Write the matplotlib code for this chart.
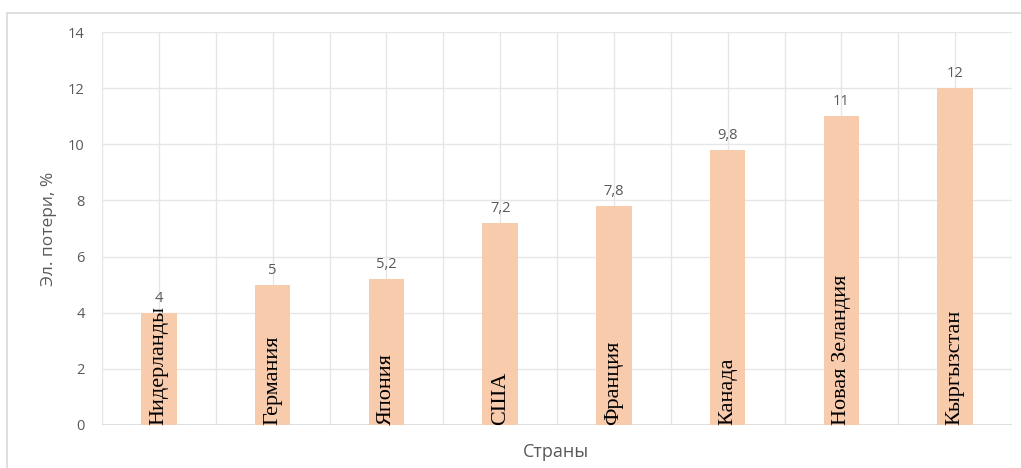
import numpy as np
import matplotlib.pyplot as plt
from matplotlib.patches import Rectangle

countries = ["Нидерланды", "Германия", "Япония", "США", "Франция",
             "Канада", "Новая Зеландия", "Кыргызстан"]
losses = [4, 5, 5.2, 7.2, 7.8, 9.8, 11, 12]
yticks = [0, 2, 4, 6, 8, 10, 12, 14]

bar_color = "#F8CBAD"
text_gray = "#595959"
grid_gray = "#E6E6E6"

fig = plt.figure(figsize=(10.21, 4.68), dpi=100)
ax = fig.add_axes([102 / 1021, 1 - 425 / 468, 910 / 1021, 393 / 468])

# light frame around the chart area
fig.patches.append(Rectangle((7 / 1021, -0.1), 1.1, 1 - 13 / 468 + 0.1,
                             transform=fig.transFigure, fill=False,
                             edgecolor="#D9D9D9", linewidth=1.2))

x = np.arange(len(countries))
bars = ax.bar(x, losses, width=0.31, color=bar_color, zorder=2)

ax.set_xlim(-0.5, len(countries) - 0.5)
ax.set_ylim(0, 14)
ax.set_yticks(yticks)
ax.set_yticklabels([str(t) for t in yticks], color=text_gray,
                   fontsize=10.5, family="Open Sans")
ax.set_xticks([])

# grid: horizontal at ticks, vertical every half category
for t in yticks[1:]:
    ax.axhline(t, color=grid_gray, linewidth=1, zorder=0)
for v in np.arange(-0.5, len(countries), 0.5):
    ax.axvline(v, color=grid_gray, linewidth=1, zorder=0)

for s in ax.spines.values():
    s.set_visible(False)
ax.axhline(0, color="#D9D9D9", linewidth=1.2, zorder=1)
ax.tick_params(axis="y", length=0, pad=12.5)

# value labels with decimal comma
for xi, v in zip(x, losses):
    label = f"{v:g}".replace(".", ",")
    ax.annotate(label, (xi, v), xytext=(0, 5), textcoords="offset points",
                ha="center", va="bottom", color=text_gray, fontsize=10.5,
                family="Open Sans")

# country names written inside the bars
for xi, name in zip(x, countries):
    ax.text(xi, 0, name, rotation=90, ha="center", va="bottom",
            fontsize=16, family="Liberation Serif", color="black", zorder=3)

ax.set_ylabel("Эл. потери, %", color=text_gray, fontsize=12.5,
              family="Open Sans", labelpad=8)
fig.text(556 / 1021, 1 - 452 / 468, "Страны", ha="center", va="center",
         color=text_gray, fontsize=13, family="Open Sans")

fig.savefig("out.png", dpi=100)
